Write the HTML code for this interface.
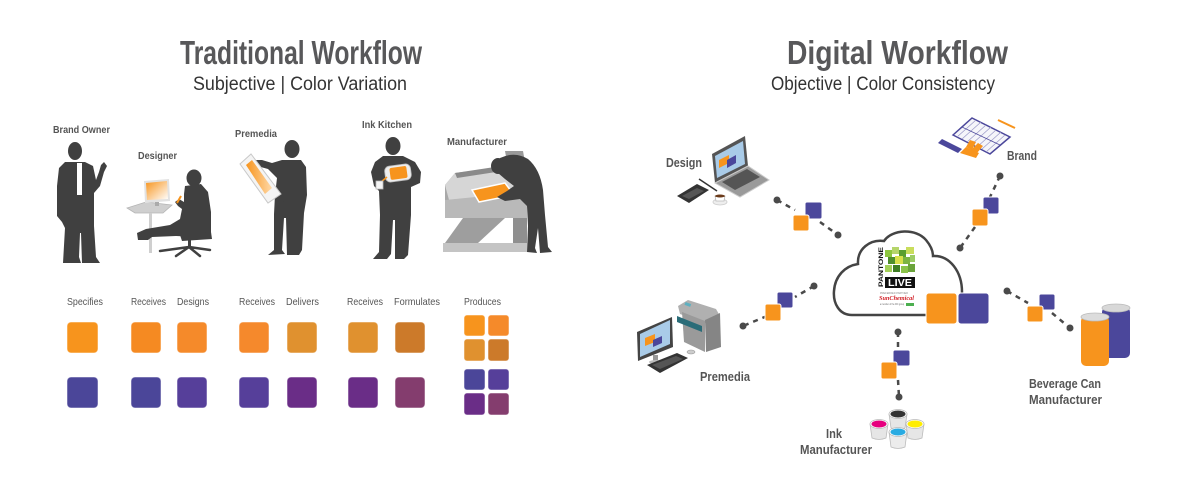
<!DOCTYPE html>
<html><head><meta charset="utf-8"><style>
html,body{margin:0;padding:0;background:#fff;}
svg{display:block;}
.t{font-family:"Liberation Sans Narrow","Liberation Sans",sans-serif;}
</style></head><body>
<svg width="1200" height="480" viewBox="0 0 1200 480" xmlns="http://www.w3.org/2000/svg">
<defs>
<linearGradient id="og" x1="0" y1="0" x2="1" y2="1"><stop offset="0" stop-color="#F7941D"/><stop offset="1" stop-color="#fff"/></linearGradient>
<linearGradient id="og2" x1="0" y1="0" x2="1" y2="0"><stop offset="0" stop-color="#F7941D"/><stop offset="1" stop-color="#ffd9a8"/></linearGradient>
</defs>
<rect width="1200" height="480" fill="#fff"/>

<!-- Titles -->
<g class="t">
<text x="180" y="64" font-size="33" font-weight="bold" fill="#58585a" textLength="242" lengthAdjust="spacingAndGlyphs">Traditional Workflow</text>
<text x="193" y="90" font-size="19" fill="#333" textLength="214" lengthAdjust="spacingAndGlyphs">Subjective | Color Variation</text>
<text x="787" y="64" font-size="33" font-weight="bold" fill="#58585a" textLength="221" lengthAdjust="spacingAndGlyphs">Digital Workflow</text>
<text x="771" y="90" font-size="19" fill="#333" textLength="224" lengthAdjust="spacingAndGlyphs">Objective | Color Consistency</text>
</g>

<!-- Left role labels -->
<g class="t" font-size="10.5" font-weight="bold" fill="#555">
<text x="53" y="133" textLength="57" lengthAdjust="spacingAndGlyphs">Brand Owner</text>
<text x="138" y="159" textLength="39" lengthAdjust="spacingAndGlyphs">Designer</text>
<text x="235" y="137" textLength="42" lengthAdjust="spacingAndGlyphs">Premedia</text>
<text x="362" y="128" textLength="50" lengthAdjust="spacingAndGlyphs">Ink Kitchen</text>
<text x="447" y="145" textLength="60" lengthAdjust="spacingAndGlyphs">Manufacturer</text>
</g>

<!-- Brand owner -->
<g fill="#404040">
<ellipse cx="75" cy="151" rx="7" ry="9"/>
<path d="M65,162 L85,162 L93,166 L96,180 L99,172 L101,165 L104,162 L107,166 L104,172 L100,186 L94,193 L94,226 L96,257 L100,263 L82,263 L81,233 L80,233 L79,257 L81,263 L63,263 L65,228 L62,222 L57,216 L57,186 L59,168 Z"/>
<rect x="77" y="163" width="5" height="32" fill="#fff"/>
</g>

<!-- Designer -->
<polygon points="127,208 146,202 172,205 163,213 135,213" fill="#cfcfcf" stroke="#b5b5b5" stroke-width="0.8"/>
<rect x="149" y="213" width="3" height="40" fill="#cfcfcf"/>
<polygon points="144,181 169,179 170,201 145,203" fill="#e2e2e2"/>
<polygon points="146,183 167,181 168,199 147,200" fill="url(#og)"/>
<rect x="155" y="202" width="4" height="4" fill="#aaa"/>
<g fill="#404040">
<ellipse cx="194" cy="178" rx="7.5" ry="8.5"/>
<path d="M185,186 L201,184 L208,192 L211,212 L211,234 L198,237 L176,236 L152,237 L148,240 L138,240 L137,233 L146,229 L170,225 L180,219 L182,209 L178,206 L175,202 L179,199 L184,202 L184,194 Z"/>
<path d="M180,235 L211,232 L212,239 L182,241 Z"/>
<rect x="188" y="240" width="3" height="8"/>
<g stroke="#404040" stroke-width="2.5" fill="none" stroke-linecap="round"><path d="M189,247 L160,251 M189,247 L176,256 M189,247 L200,256 M189,247 L210,250"/></g>
</g>
<line x1="177" y1="203" x2="181" y2="196" stroke="#F7941D" stroke-width="2"/>

<!-- Premedia person -->
<g fill="#404040">
<ellipse cx="292" cy="149" rx="7.5" ry="9"/>
<path d="M282,160 L301,160 L306,167 L307,195 L304,213 L302,250 L299,255 L287,255 L286,218 L284,218 L282,250 L285,254 L268,255 L274,250 L274,214 L275,195 L277,178 L268,169 L257,166 L254,160 L262,160 L272,163 Z"/>
<ellipse cx="280" cy="203" rx="4" ry="3"/>
</g>
<polygon points="240,164 251,154 281,194 268,203" fill="#f4f4f4" stroke="#c8c8c8" stroke-width="1"/>
<polygon points="246,165 252,160 272,188 265,194" fill="url(#og2)"/>

<!-- Ink kitchen person -->
<g fill="#404040">
<ellipse cx="393" cy="146" rx="7.5" ry="9"/>
<path d="M383,156 L403,156 L415,162 L421,172 L420,183 L411,187 L411,215 L408,255 L404,259 L395,259 L395,220 L393,220 L391,254 L387,259 L373,259 L379,252 L380,215 L379,191 L374,186 L371,172 L375,162 Z"/>
</g>
<g transform="rotate(-8 398 173)">
<rect x="385" y="165" width="26" height="16" rx="5" fill="#eee" stroke="#bbb" stroke-width="0.8"/>
<rect x="390" y="167" width="17" height="12" rx="2" fill="#F7941D"/>
</g>
<line x1="387" y1="177" x2="381" y2="182" stroke="#F7941D" stroke-width="1.5"/>
<rect x="376" y="181" width="7" height="8" fill="#f5f5f5" stroke="#bbb" stroke-width="0.8"/>

<!-- Manufacturer machine -->
<polygon points="505,151 523,151 525,162 507,162" fill="#9a9a9a"/>
<polygon points="445,185 455,173 510,166 527,192 527,218 445,218" fill="#a8a8a8"/>
<polygon points="445,185 455,173 510,166 527,192 449,200" fill="#d6d6d6"/>
<polygon points="455,173 508,165 509,170 457,178" fill="#8a8a8a"/>
<polygon points="445,200 527,192 527,218 445,218" fill="#b9b9b9"/>
<polygon points="472,190 505,183 514,195 479,202" fill="#F7941D" stroke="#fff" stroke-width="1.5"/>
<polygon points="463,218 505,218 478,243 445,243" fill="#9e9e9e"/>
<polygon points="443,243 527,243 527,252 443,252" fill="#c4c4c4"/>
<polygon points="513,218 527,218 527,243 513,243" fill="#8f8f8f"/>
<g fill="#404040">
<ellipse cx="498" cy="166" rx="7" ry="8"/>
<path d="M500,158 Q515,151 528,159 Q540,169 543,190 L545,215 L548,247 L552,252 L540,253 L538,228 L535,248 L537,253 L527,252 L528,226 L527,206 L520,199 L505,201 L497,197 L507,191 L514,186 L505,179 L498,173 Z"/>
</g>

<!-- Row labels -->
<g class="t" font-size="10.5" fill="#555">
<text x="67" y="305" textLength="36" lengthAdjust="spacingAndGlyphs">Specifies</text>
<text x="131" y="305" textLength="35" lengthAdjust="spacingAndGlyphs">Receives</text>
<text x="177" y="305" textLength="32" lengthAdjust="spacingAndGlyphs">Designs</text>
<text x="239" y="305" textLength="36" lengthAdjust="spacingAndGlyphs">Receives</text>
<text x="286" y="305" textLength="33" lengthAdjust="spacingAndGlyphs">Delivers</text>
<text x="347" y="305" textLength="36" lengthAdjust="spacingAndGlyphs">Receives</text>
<text x="394" y="305" textLength="46" lengthAdjust="spacingAndGlyphs">Formulates</text>
<text x="464" y="305" textLength="37" lengthAdjust="spacingAndGlyphs">Produces</text>
</g>

<!-- Left squares -->
<g stroke-width="1" stroke="#fff" stroke-opacity="0.5">
<rect x="67" y="322" width="31" height="31" rx="4" fill="#F7941D"/>
<rect x="131" y="322" width="30" height="31" rx="4" fill="#F58A22"/>
<rect x="177" y="322" width="30" height="31" rx="4" fill="#F58A2A"/>
<rect x="239" y="322" width="30" height="31" rx="4" fill="#F5892C"/>
<rect x="287" y="322" width="30" height="31" rx="4" fill="#E0912F"/>
<rect x="348" y="322" width="30" height="31" rx="4" fill="#E0912F"/>
<rect x="395" y="322" width="30" height="31" rx="4" fill="#CC7A2A"/>
<rect x="67" y="377" width="31" height="31" rx="4" fill="#4B4699"/>
<rect x="131" y="377" width="30" height="31" rx="4" fill="#4B4699"/>
<rect x="177" y="377" width="30" height="31" rx="4" fill="#563F9A"/>
<rect x="239" y="377" width="30" height="31" rx="4" fill="#563F9A"/>
<rect x="287" y="377" width="30" height="31" rx="4" fill="#6A2D87"/>
<rect x="348" y="377" width="30" height="31" rx="4" fill="#6A2D87"/>
<rect x="395" y="377" width="30" height="31" rx="4" fill="#843D6E"/>
<rect x="464" y="315" width="21" height="21" rx="3" fill="#F7941D"/>
<rect x="488" y="315" width="21" height="21" rx="3" fill="#F58A2A"/>
<rect x="464" y="339" width="21" height="22" rx="3" fill="#E0912F"/>
<rect x="488" y="339" width="21" height="22" rx="3" fill="#CC7A2A"/>
<rect x="464" y="369" width="21" height="21" rx="3" fill="#4B4699"/>
<rect x="488" y="369" width="21" height="21" rx="3" fill="#563F9A"/>
<rect x="464" y="393" width="21" height="22" rx="3" fill="#6A2D87"/>
<rect x="488" y="393" width="21" height="22" rx="3" fill="#843D6E"/>
</g>

<!-- Connectors -->
<g stroke="#4a4a4a" stroke-width="2.5" stroke-dasharray="5 5" fill="none">
<line x1="777" y1="200" x2="795" y2="210"/>
<line x1="820" y1="222" x2="838" y2="235"/>
<line x1="1000" y1="176" x2="990" y2="197"/>
<line x1="975" y1="227" x2="960" y2="248"/>
<line x1="814" y1="286" x2="795" y2="297"/>
<line x1="767" y1="316" x2="743" y2="326"/>
<line x1="1007" y1="291" x2="1028" y2="303"/>
<line x1="1052" y1="313" x2="1070" y2="328"/>
<line x1="898" y1="332" x2="898" y2="350"/>
<line x1="898" y1="380" x2="899" y2="397"/>
</g>
<g fill="#4a4a4a">
<circle cx="777" cy="200" r="3.5"/><circle cx="838" cy="235" r="3.5"/>
<circle cx="1000" cy="176" r="3.5"/><circle cx="960" cy="248" r="3.5"/>
<circle cx="814" cy="286" r="3.5"/><circle cx="743" cy="326" r="3.5"/>
<circle cx="1007" cy="291" r="3.5"/><circle cx="1070" cy="328" r="3.5"/>
<circle cx="898" cy="332" r="3.5"/><circle cx="899" cy="397" r="3.5"/>
</g>
<g stroke="#fff" stroke-width="1">
<rect x="805" y="202" width="17" height="17" rx="2" fill="#4B479B"/>
<rect x="793" y="215" width="16" height="16" rx="2" fill="#F7941D"/>
<rect x="983" y="197" width="16" height="17" rx="2" fill="#4B479B"/>
<rect x="972" y="209" width="16" height="17" rx="2" fill="#F7941D"/>
<rect x="777" y="292" width="16" height="16" rx="2" fill="#4B479B"/>
<rect x="765" y="304" width="16" height="17" rx="2" fill="#F7941D"/>
<rect x="1039" y="294" width="16" height="16" rx="2" fill="#4B479B"/>
<rect x="1027" y="306" width="16" height="16" rx="2" fill="#F7941D"/>
<rect x="893" y="350" width="17" height="16" rx="2" fill="#4B479B"/>
<rect x="881" y="362" width="16" height="17" rx="2" fill="#F7941D"/>
</g>

<!-- Cloud -->
<path d="M852,315 C839,315 833,303 834,291 C835,276 845,266 858,264 C857,249 870,239 884,241 C892,229 916,228 926,240 C931,246 933,251 933,256 C950,255 962,272 962,292 C962,305 955,315 945,315 Z" fill="#fff" stroke="#444" stroke-width="2.5"/>
<!-- Pantone logo -->
<text x="0" y="0" transform="translate(883,287) rotate(-90)" font-family="Liberation Sans,sans-serif" font-size="6.5" font-weight="bold" fill="#111" textLength="40" lengthAdjust="spacingAndGlyphs">PANTONE</text>
<rect x="885" y="247" width="30" height="29" fill="#fff"/>
<g>
<rect x="885" y="250" width="7" height="7" fill="#8dc63f"/><rect x="892" y="247" width="7" height="7" fill="#b5d56a"/>
<rect x="899" y="250" width="7" height="7" fill="#5a9e2f"/><rect x="906" y="247" width="8" height="7" fill="#c9dd5c"/>
<rect x="888" y="257" width="7" height="7" fill="#4f8f2c"/><rect x="895" y="256" width="8" height="8" fill="#d8e04a"/>
<rect x="903" y="257" width="7" height="7" fill="#7cb342"/><rect x="910" y="255" width="5" height="7" fill="#9ccc65"/>
<rect x="885" y="265" width="7" height="7" fill="#a5d15a"/><rect x="893" y="265" width="7" height="7" fill="#3e7d24"/>
<rect x="901" y="266" width="7" height="7" fill="#8bc34a"/><rect x="908" y="264" width="7" height="8" fill="#6aa33a"/>
</g>
<rect x="885" y="277" width="30" height="11" fill="#111"/>
<text x="888" y="286" font-family="Liberation Sans,sans-serif" font-size="10" font-weight="bold" fill="#fff" textLength="24" lengthAdjust="spacingAndGlyphs">LIVE</text>
<text x="880" y="294" font-family="Liberation Sans,sans-serif" font-size="3" fill="#888" textLength="28" lengthAdjust="spacingAndGlyphs">PREFERRED PARTNER</text>
<text x="879" y="300" font-family="Liberation Serif,serif" font-size="6.5" font-style="italic" font-weight="bold" fill="#d2232a" textLength="35" lengthAdjust="spacingAndGlyphs">SunChemical</text>
<text x="880" y="305" font-family="Liberation Sans,sans-serif" font-size="2.5" fill="#666" textLength="24" lengthAdjust="spacingAndGlyphs">a member of the DIC group</text>
<rect x="906" y="303" width="8" height="3" fill="#4caf50"/>
<rect x="926" y="293" width="31" height="31" rx="3" fill="#F7941D" stroke="#fff" stroke-width="1"/>
<rect x="958" y="293" width="31" height="31" rx="3" fill="#4B479B" stroke="#fff" stroke-width="1"/>

<!-- Design icon -->
<polygon points="712,154 745,136 748,166 715,183" fill="#555"/>
<polygon points="715,156 743,141 745,164 717,178" fill="#a9cbe8"/>
<polygon points="719,160 729,155 729,163 719,168" fill="#F7941D"/>
<polygon points="727,160 736,155 736,163 727,168" fill="#4B479B"/>
<polygon points="715,183 748,166 769,180 740,197" fill="#9a9a9a" stroke="#ccc" stroke-width="1"/>
<polygon points="722,182 747,169 760,177 735,190" fill="#555"/>
<polygon points="677,196 697,184 709,190 689,203" fill="#333"/>
<polygon points="682,196 697,188 704,191 689,199" fill="#555"/>
<line x1="699" y1="179" x2="717" y2="191" stroke="#333" stroke-width="1.5"/>
<ellipse cx="720" cy="202" rx="7" ry="3" fill="#eee" stroke="#ccc" stroke-width="0.8"/>
<path d="M715,196 L725,196 L724,201 L716,201 Z" fill="#fff" stroke="#bbb" stroke-width="0.8"/>
<ellipse cx="720" cy="196" rx="5" ry="1.5" fill="#6b3b1a"/>

<!-- Brand icon -->
<polygon points="953,135 972,118 1010,137 990,154" fill="#f5f5fa" stroke="#4B479B" stroke-width="1.5"/>
<g stroke="#9a98c8" stroke-width="0.7">
<line x1="957" y1="137" x2="976" y2="120"/><line x1="962" y1="139" x2="981" y2="122"/>
<line x1="967" y1="142" x2="986" y2="125"/><line x1="972" y1="144" x2="991" y2="127"/>
<line x1="977" y1="147" x2="996" y2="130"/><line x1="982" y1="149" x2="1001" y2="132"/>
<line x1="986" y1="152" x2="1005" y2="135"/>
<line x1="962" y1="127" x2="1000" y2="145" stroke="#4B479B"/>
</g>
<line x1="998" y1="120" x2="1015" y2="128" stroke="#F7941D" stroke-width="2"/>
<polygon points="938,143 942,139 962,149 958,153" fill="#4B479B"/>
<polygon points="960,153 966,147 979,153 976,158" fill="#F7941D"/>
<polygon points="966,147 970,140 976,142 972,150" fill="#F7941D"/>
<polygon points="971,150 978,143 983,146 977,153" fill="#F7941D"/>

<!-- Premedia icon -->
<polygon points="678,306 688,300 716,309 720,316 705,323 680,314" fill="#b0b0b0"/>
<polygon points="682,312 705,321 705,352 684,342" fill="#9a9a9a"/>
<polygon points="705,320 720,313 721,347 706,352" fill="#858585"/>
<polygon points="677,316 702,326 702,332 677,322" fill="#2a6c78"/>
<rect x="685" y="303" width="6" height="3" fill="#5fb0c0" transform="rotate(20 688 304)"/>
<polygon points="637,332 672,317 673,347 638,361" fill="#444"/>
<polygon points="640,334 670,320 670,344 640,357" fill="#a9cbe8"/>
<polygon points="645,338 655,334 655,342 645,346" fill="#F7941D"/>
<polygon points="653,340 662,336 662,343 653,347" fill="#4B479B"/>
<rect x="653" y="355" width="5" height="7" fill="#999"/>
<ellipse cx="656" cy="362" rx="7" ry="2" fill="#bbb"/>
<polygon points="647,365 677,353 688,358 660,373" fill="#333"/>
<polygon points="652,365 676,356 683,359 660,369" fill="#555"/>
<ellipse cx="691" cy="352" rx="4" ry="2" fill="#ccc" stroke="#999" stroke-width="0.6"/>

<!-- Beverage cans -->
<rect x="1102" y="307" width="28" height="51" rx="5" fill="#4B479B"/>
<ellipse cx="1116" cy="308" rx="14" ry="4" fill="#d8d8d8" stroke="#bbb" stroke-width="0.8"/>
<rect x="1081" y="316" width="28" height="50" rx="5" fill="#F7941D"/>
<ellipse cx="1095" cy="317" rx="14" ry="4" fill="#dcdcdc" stroke="#bbb" stroke-width="0.8"/>

<!-- Ink buckets -->
<g stroke="#bbb" stroke-width="0.8">
<path d="M889,414 L891,428 Q898,431 905,428 L907,414 Z" fill="#e6e6e6"/>
<ellipse cx="898" cy="414" rx="9" ry="4.5" fill="#fff"/>
<ellipse cx="898" cy="414" rx="7.5" ry="3.5" fill="#333" stroke="none"/>
<path d="M870,424 L872,438 Q879,441 886,438 L888,424 Z" fill="#e6e6e6"/>
<ellipse cx="879" cy="424" rx="9" ry="4.5" fill="#fff"/>
<ellipse cx="879" cy="424" rx="7.5" ry="3.5" fill="#e6007e" stroke="none"/>
<path d="M906,424 L908,438 Q915,441 922,438 L924,424 Z" fill="#e6e6e6"/>
<ellipse cx="915" cy="424" rx="9" ry="4.5" fill="#fff"/>
<ellipse cx="915" cy="424" rx="7.5" ry="3.5" fill="#ffed00" stroke="none"/>
<path d="M889,432 L891,447 Q898,450 905,447 L907,432 Z" fill="#ececec"/>
<ellipse cx="898" cy="432" rx="9" ry="4.5" fill="#fff"/>
<ellipse cx="898" cy="432" rx="7.5" ry="3.5" fill="#29abe2" stroke="none"/>
</g>

<!-- Right labels -->
<g class="t" font-size="12.5" font-weight="bold" fill="#555">
<text x="666" y="167" textLength="36" lengthAdjust="spacingAndGlyphs">Design</text>
<text x="1007" y="160" textLength="30" lengthAdjust="spacingAndGlyphs">Brand</text>
<text x="700" y="381" textLength="50" lengthAdjust="spacingAndGlyphs">Premedia</text>
<text x="1029" y="388" textLength="72" lengthAdjust="spacingAndGlyphs">Beverage Can</text>
<text x="1029" y="404" textLength="73" lengthAdjust="spacingAndGlyphs">Manufacturer</text>
<text x="826" y="438" textLength="16" lengthAdjust="spacingAndGlyphs">Ink</text>
<text x="800" y="454" textLength="72" lengthAdjust="spacingAndGlyphs">Manufacturer</text>
</g>
</svg>
</body></html>
